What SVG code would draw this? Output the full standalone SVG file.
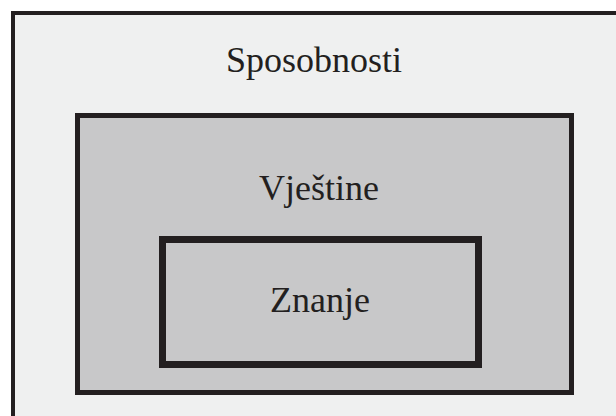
<svg xmlns="http://www.w3.org/2000/svg" width="616" height="416" viewBox="0 0 616 416">
<style>
.lbl{font-family:"Liberation Serif","Times New Roman",serif;font-size:36px;fill:#231f20;text-anchor:middle}
.box{stroke:#231f20}
</style>
<rect width="616" height="416" fill="#ffffff"/>
<g id="sposobnosti">
<rect class="box" x="13" y="13" width="620" height="420" fill="#eff0f0" stroke-width="4"/>
<text class="lbl" x="314" y="72">Sposobnosti</text>
</g>
<g id="vjestine">
<rect class="box" x="77.5" y="115.5" width="494" height="277" fill="#c8c8c9" stroke-width="5"/>
<text class="lbl" x="319" y="200">Vještine</text>
</g>
<g id="znanje">
<rect class="box" x="162.5" y="239.5" width="316" height="125" fill="#c8c8c9" stroke-width="7"/>
<text class="lbl" x="320" y="312">Znanje</text>
</g>
<g id="connectors"/>
</svg>
